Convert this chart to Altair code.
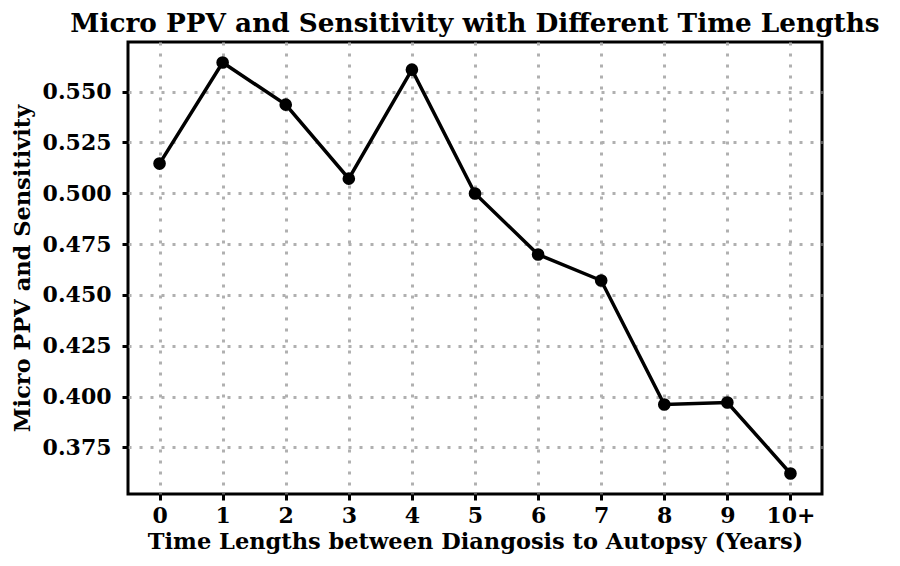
import altair as alt
import pandas as pd

categories = ["0", "1", "2", "3", "4", "5", "6", "7", "8", "9", "10+"]
positions = [0, 1, 2, 3, 4, 5, 6, 7, 8, 9, 10]
values = [0.5146, 0.5643, 0.5436, 0.5072, 0.5608, 0.4999, 0.4699, 0.4571, 0.3961, 0.3971, 0.3622]
y_ticks = [0.375, 0.400, 0.425, 0.450, 0.475, 0.500, 0.525, 0.550]

df = pd.DataFrame({"pos": positions, "cat": categories, "val": values})

FONT = "DejaVu Serif"

x = alt.X(
    "pos:Q",
    scale=alt.Scale(domain=[-0.5, 10.5], nice=False, zero=False),
    axis=alt.Axis(
        values=positions,
        labelExpr="datum.value == 10 ? '10+' : datum.label",
        title="Time Lengths between Diangosis to Autopsy (Years)",
        labelPadding=5,
        titlePadding=4,
    ),
)
y = alt.Y(
    "val:Q",
    scale=alt.Scale(domain=[0.3521, 0.5744], nice=False, zero=False),
    axis=alt.Axis(
        values=y_ticks, format=".3f", title="Micro PPV and Sensitivity",
        labelPadding=11, titlePadding=8,
    ),
)

line = alt.Chart(df).mark_line(color="black", strokeWidth=3.5).encode(x=x, y=y)
pts = alt.Chart(df).mark_circle(color="black", size=160, opacity=1).encode(x=x, y=y)

chart = (
    alt.layer(line, pts)
    .properties(
        width=694,
        height=452,
        title=alt.TitleParams(
            "Micro PPV and Sensitivity with Different Time Lengths",
            font=FONT, fontSize=26.3, fontWeight="bold", color="black", offset=5,
        ),
        autosize=alt.AutoSizeParams(type="none"),
        padding={"left": 120, "top": 34, "right": 70, "bottom": 64},
    )
    .configure_view(stroke="black", strokeWidth=3)
    .configure_axis(
        labelFont=FONT, labelFontSize=22, labelFontWeight="bold", labelColor="black",
        titleFont=FONT, titleFontSize=22.5, titleFontWeight="bold", titleColor="black",
        grid=True, gridColor="#b0b0b0", gridDash=[3, 8], gridWidth=3,
        domain=False, tickColor="black", tickWidth=3, tickSize=6,
    )
)

chart.save("out.html", embed_options={"renderer": "svg", "actions": False})
